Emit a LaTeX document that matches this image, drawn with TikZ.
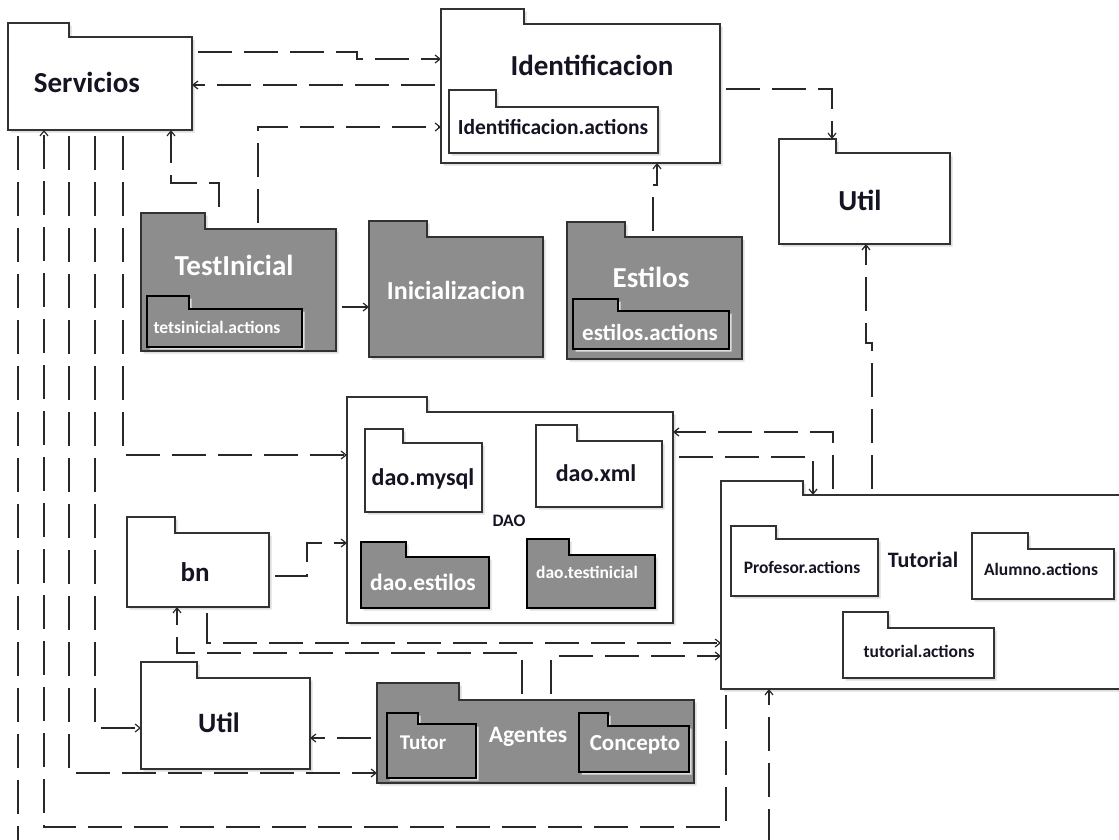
\documentclass[tikz,border=0pt]{standalone}
\usepackage{fontspec}
\setmainfont{Carlito}
\usetikzlibrary{arrows.meta}
\definecolor{pkggray}{RGB}{141,141,141}
\definecolor{boxline}{RGB}{50,50,50}
\definecolor{linec}{RGB}{40,40,40}
\definecolor{darktxt}{RGB}{20,20,35}
\newcommand\pkgdraw[9][]{%
  \path (#4,#5) node[namebox,minimum width={(#6-#4)*1pt},minimum height={(#7-#5)*1pt},anchor=north west] (#2t) {};
  \path (#4,#7) node[namebox,minimum width={(#8-#4)*1pt},minimum height={(#9-#7)*1pt},anchor=north west] (#2) {};
  \fill[pkgshadow,shift={(2.5,2.5)}] (#4,#9) -- (#4,#5) -- (#6,#5) -- (#6,#7) -- (#8,#7) -- (#8,#9) -- cycle;
  \draw[pkgshape,#1,fill=#3] (#4,#9) -- (#4,#5) -- (#6,#5) -- (#6,#7) -- (#8,#7) -- (#8,#9) -- cycle;
}
\tikzset{
  namebox/.style={inner sep=0pt,outer sep=0pt,rectangle},
  pkgshape/.style={draw=boxline,line width=1.8pt,line join=miter},
  pkgshadow/.style={black!13},
  innerg/.style={draw=black},
  lab/.style={inner sep=0pt,font=\bfseries\fontsize{#1pt}{#1pt}\selectfont,text=darktxt},
  wlab/.style={inner sep=0pt,font=\bfseries\fontsize{#1pt}{#1pt}\selectfont,text=white},
  dep/.style={draw=linec,line width=1.4pt,dash pattern=on 34pt off 12pt,shorten <=6pt,
    -{Straight Barb[length=5pt,width=8pt,line width=1.2pt]}},
}
\begin{document}
\begin{tikzpicture}[x=1pt,y=-1pt]
\useasboundingbox (0,0) rectangle (1119,839);
\clip (0,0) rectangle (1119,839);
\fill[white] (0,0) rectangle (1119,839);

% packages
\pkgdraw{serv}{white}{8}{23}{69}{37}{192}{130}
\pkgdraw{ident}{white}{441}{9}{524}{24}{720}{163}
\pkgdraw{identa}{white}{449}{90}{496}{107}{658}{153}
\pkgdraw{utila}{white}{779}{139}{836}{153}{950}{244}
\pkgdraw{test}{pkggray}{141}{213}{205}{229}{336}{351}
\pkgdraw[innerg]{testa}{pkggray}{147}{296}{189}{309}{302}{347}
\pkgdraw{inic}{pkggray}{369}{221}{427}{237}{543}{357}
\pkgdraw{est}{pkggray}{567}{222}{625}{237}{742}{359}
\pkgdraw[innerg]{esta}{pkggray}{573}{299}{618}{311}{729}{349}
\pkgdraw{dao}{white}{347}{397}{427}{412}{673}{623}
\pkgdraw{mysql}{white}{365}{429}{403}{443}{482}{512}
\pkgdraw{xml}{white}{536}{425}{577}{441}{662}{507}
\pkgdraw[innerg]{daoest}{pkggray}{361}{542}{406}{557}{489}{608}
\pkgdraw[innerg]{daotest}{pkggray}{527}{539}{569}{555}{655}{608}
\pkgdraw{bn}{white}{127}{517}{175}{533}{269}{607}
\pkgdraw{utilb}{white}{141}{662}{197}{678}{310}{769}
\pkgdraw{agent}{pkggray}{377}{683}{459}{700}{694}{783}
\pkgdraw[innerg]{tutor}{pkggray}{387}{713}{418}{724}{476}{778}
\pkgdraw[innerg]{conc}{pkggray}{579}{713}{608}{726}{689}{772}
\pkgdraw{tut}{white}{721}{481}{803}{495}{1135}{689}
\pkgdraw{prof}{white}{731}{526}{776}{539}{878}{596}
\pkgdraw{alum}{white}{972}{533}{1028}{549}{1114}{599}
\pkgdraw{tuta}{white}{843}{612}{888}{628}{994}{678}

% labels
\node[lab=29] (servL) at (87,82) {Servicios};
\node[lab=29] (identL) at (592,65) {Identificacion};
\node[lab=21.5] (identaL) at (553,127) {Identificacion.actions};
\node[lab=29] (utilaL) at (860,200) {Util};
\node[wlab=29] (testL) at (234,265) {TestInicial};
\node[wlab=17.5] (testaL) at (217,327) {tetsinicial.actions};
\node[wlab=26] (inicL) at (456,290) {Inicializacion};
\node[wlab=29] (estL) at (651,277) {Estilos};
\node[wlab=23] (estaL) at (650,332) {estilos.actions};
\node[lab=17.5] (daoL) at (509,521) {DAO};
\node[lab=24] (mysqlL) at (423,479) {dao.mysql};
\node[lab=24] (xmlL) at (596,473) {dao.xml};
\node[wlab=23.5] (daoestL) at (423,582) {dao.estilos};
\node[wlab=17.5] (daotestL) at (587,572) {dao.testinicial};
\node[lab=27] (bnL) at (195,572) {bn};
\node[lab=28] (utilbL) at (219,723) {Util};
\node[wlab=23.5] (agentL) at (528,737) {Agentes};
\node[wlab=21] (tutorL) at (423,743) {Tutor};
\node[wlab=23] (concL) at (635,745) {Concepto};
\node[lab=22] (tutL) at (923,560) {Tutorial};
\node[lab=17.5] (profL) at (802,567) {Profesor.actions};
\node[lab=17.5] (alumL) at (1041,569) {Alumno.actions};
\node[lab=17.5] (tutaL) at (919,651) {tutorial.actions};

% connectors
\draw[dep] (serv.east |- 0,52) -- (357,52) -- (357,59) -- (ident.west |- 0,59);
\draw[dep] (ident.west |- 0,85) -- (serv.east |- 0,85);
\draw[dep] (test.north -| 258,0) -- (258,127) -- (ident.west |- 0,127);
\draw[dep] (testt.north -| 219,0) -- (219,183) -- (171,183) -- (serv.south -| 171,0);
\draw[dep] (test.east |- 0,307) -- (inic.west |- 0,307);
\draw[dep] (est.north -| 653,0) -- (653,185) -- (657,185) -- (ident.south -| 657,0);
\draw[dep] (ident.east |- 0,89) -- (832,89) -- (utilat.north -| 832,0);
\draw[dep] (tut.north -| 872,0) -- (872,343) -- (866,343) -- (utila.south -| 866,0);
\draw[dep] (tut.north -| 833,0) -- (833,432) -- (dao.east |- 0,432);
\draw[dep] (dao.east |- 0,457) -- (813,457) -- (tut.north -| 813,0);
\draw[dep] (serv.south -| 123,0) -- (123,455) -- (dao.west |- 0,455);
\draw[dep] (bn.east |- 0,576) -- (307,576) -- (307,543) -- (dao.west |- 0,543);
\draw[dep] (serv.south -| 95,0) -- (95,728) -- (utilb.west |- 0,728);
\draw[dep] (serv.south -| 69,0) -- (69,773) -- (agent.west |- 0,773);
\draw[dep] (agent.west |- 0,738) -- (utilb.east |- 0,738);
\draw[dep] (agent.north -| 522,0) -- (522,653) -- (177,653) -- (bn.south -| 177,0);
\draw[dep] (bn.south -| 207,0) -- (207,643) -- (tut.west |- 0,643);
\draw[dep] (agent.north -| 551,0) -- (551,656) -- (tut.west |- 0,656);
\draw[dep] (tut.south -| 726,0) -- (726,827) -- (44,827) -- (serv.south -| 44,0);
\draw[dep] (serv.south -| 18,0) -- (18,850) -- (769,850) -- (tut.south -| 769,0);
\end{tikzpicture}
\end{document}
